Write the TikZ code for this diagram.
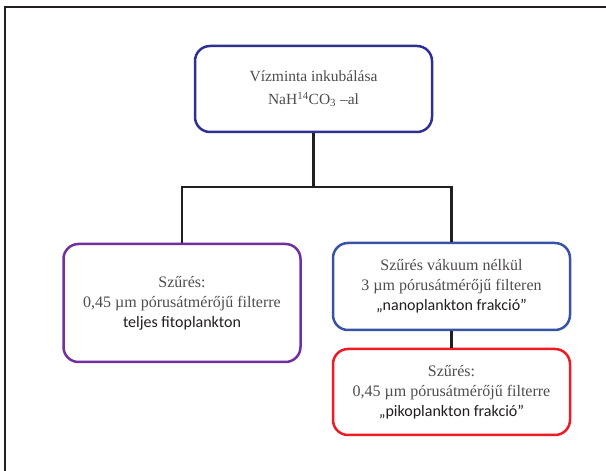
\documentclass[tikz,border=0pt]{standalone}
\usepackage{fontspec}
\setmainfont{Liberation Serif}
\setsansfont{Carlito}
\usepackage{tikz}
\usepackage{xcolor}
\definecolor{customcolor1}{HTML}{2E3192}
\definecolor{customcolor2}{HTML}{7030A0}
\definecolor{customcolor3}{HTML}{3953A4}
\definecolor{customcolor4}{HTML}{ED1C24}
\definecolor{customcolor5}{HTML}{231F20}

\begin{document}
\begin{tikzpicture}[
        stagebox/.style = {draw, rectangle, rounded corners = 15pt, line width = 2.5pt, fill = white,
            minimum width = 237pt, align = center, text = customcolor5!80, font = \fontsize{16}{20}\selectfont},
        link/.style = {line width = 2.5pt, draw = customcolor5}
    ]

        \useasboundingbox (0pt, 0pt) rectangle (606pt, 471pt);

        % Frame
        \draw [line width = 1.5pt, customcolor5] (606pt, 464pt) -- (5pt, 464pt) -- (5pt, 0pt);

        \node [stagebox, draw = customcolor1, minimum height = 86pt, font = \fontsize{15.5}{23}\selectfont] (incub) at (313.5pt, 382pt)
            {Vízminta inkubálása\\NaH\textsuperscript{14}CO\textsubscript{3} –al};

        \node [stagebox, draw = customcolor2, minimum height = 118pt] (total) at (182pt, 168pt)
            {Szűrés:\\0,45 µm pórusátmérőjű filterre\\\textsf{\color{customcolor5}teljes fitoplankton}};

        \node [stagebox, draw = customcolor3, minimum height = 87pt] (nano) at (451.5pt, 184.5pt)
            {Szűrés vákuum nélkül\\3 µm pórusátmérőjű filteren\\\textsf{\color{customcolor5}„nanoplankton frakció”}};

        \node [stagebox, draw = customcolor4, minimum height = 86pt] (piko) at (451.5pt, 79pt)
            {Szűrés:\\0,45 µm pórusátmérőjű filterre\\\textsf{\color{customcolor5}„pikoplankton frakció”}};

        \coordinate (split) at (313.5pt, 284pt);

        % Connectors
        \draw [link] (incub.south) -- (split);
        \draw [link] (total.north) |- (split) -| (nano.north);
        \draw [link] (nano.south) -- (piko.north);

    \end{tikzpicture}
\end{document}
